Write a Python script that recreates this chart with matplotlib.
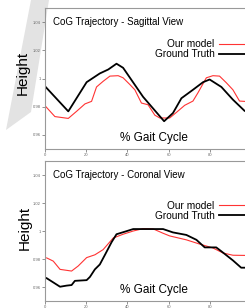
import numpy as np
import matplotlib
matplotlib.use("Agg")
import matplotlib.pyplot as plt
from matplotlib.patches import Polygon

plt.rcParams['font.family'] = ['Liberation Sans', 'DejaVu Sans']

# --- data ---
sag_model_x = [0, 4.8, 11.3, 15.3, 19.4, 22.6, 25, 28.2, 31.5, 35.5, 37.9, 41.2, 43.6,
               46.8, 50, 53.3, 55.7, 60.5, 63.8, 67.8, 71.8, 74.2, 78.3, 81.5, 84.7,
               88, 91.2, 94.4, 100]
sag_model_y = [0.9807, 0.973, 0.9717, 0.9767, 0.982, 0.9838, 0.994, 0.998, 1.0017, 1.002,
               1.0005, 0.9957, 0.992, 0.9826, 0.9814, 0.974, 0.972, 0.972, 0.976, 0.981,
               0.984, 0.9898, 1.0005, 1.002, 1.0017, 0.997, 0.992, 0.984, 0.9835]
sag_truth_x = [0, 11.3, 20.2, 26.6, 30.7, 34.7, 37.9, 47.6, 57.8, 62.1, 66.2, 71.8,
               76.7, 79.9, 85.6, 91.2, 96.9, 100]
sag_truth_y = [0.9945, 0.9767, 0.9974, 1.0036, 1.0064, 1.0105, 1.0076, 0.987, 0.9697,
               0.9755, 0.986, 0.992, 0.9974, 0.9993, 0.994, 0.985, 0.977, 0.976]

cor_model_x = [0.8, 4, 7.3, 12.9, 16.1, 20.2, 24.2, 28.2, 33.1, 37.9, 42.8, 47.6, 52.5,
               57.3, 60.5, 68.6, 75, 81.5, 86.4, 91.2, 100]
cor_model_y = [0.9808, 0.9785, 0.9726, 0.9714, 0.975, 0.981, 0.983, 0.9867, 0.995,
               0.9977, 1.0, 1.0017, 1.0015, 0.9984, 0.9965, 0.9937, 0.9907, 0.9879,
               0.9843, 0.9827, 0.9825]
cor_truth_x = [0.8, 4, 7.3, 10.5, 12.9, 14.5, 20.2, 21.8, 24.2, 26.6, 29.1, 32.3, 34.7,
               38.7, 42.8, 47.6, 57.3, 62.1, 68.6, 73.5, 77.5, 83.1, 85.6, 91.2, 95.2, 100]
cor_truth_y = [0.9663, 0.9633, 0.9602, 0.961, 0.9614, 0.9644, 0.9649, 0.9672, 0.9726,
               0.9761, 0.983, 0.992, 0.9977, 0.9995, 1.0014, 1.0014, 1.0014, 0.999,
               0.9972, 0.9937, 0.9883, 0.9883, 0.9855, 0.979, 0.9738, 0.9738]

titles = ["CoG Trajectory - Sagittal View", "CoG Trajectory - Coronal View"]
y_ticks = [0.96, 0.98, 1.0, 1.02, 1.04]
y_ticklabels = ["0.96", "0.98", "1", "1.02", "1.04"]
x_ticks = [0, 20, 40, 60, 80]

fig = plt.figure(figsize=(2.45, 3.08), dpi=100)

# grey diagonal smear in the upper left corner of the scan
band = Polygon([(31, 308), (49, 308), (31, 196), (6, 178)], closed=True,
               transform=None, facecolor='#e3e3e3', edgecolor='none', zorder=-1)
fig.patches.append(band)

panels = [
    ([0.1837, 0.5162, 0.841, 0.4578], sag_model_x, sag_model_y, sag_truth_x, sag_truth_y,
     titles[0], 0.738, (-0.107, 0.543)),
    ([0.1837, 0.0227, 0.841, 0.4545], cor_model_x, cor_model_y, cor_truth_x, cor_truth_y,
     titles[1], 0.674, (-0.097, 0.525)),
]

for rect, mx, my, tx, ty, title, leg_y, hpos in panels:
    ax = fig.add_axes(rect)
    ax.patch.set_alpha(0)
    ax.plot(mx, my, color='#ff3333', lw=0.8, label='Our model')
    ax.plot(tx, ty, color='black', lw=1.3, label='Ground Truth')
    ax.set_xlim(0, 100)
    ax.set_ylim(0.95, 1.05)
    ax.set_yticks(y_ticks)
    ax.set_yticklabels(y_ticklabels)
    ax.set_xticks(x_ticks)
    ax.tick_params(labelsize=3, colors='#666666', length=2, width=0.5, pad=1)
    for s in ax.spines.values():
        s.set_color('#999999')
        s.set_linewidth(0.8)
    ax.text(0.039, 0.90, title, transform=ax.transAxes, fontsize=7,
            va='center', ha='left')
    ax.text(0.53, 0.08, '% Gait Cycle', transform=ax.transAxes, fontsize=8.5,
            ha='center', va='center')
    ax.text(hpos[0], hpos[1], 'Height', transform=ax.transAxes, fontsize=11,
            rotation=90, ha='center', va='center')
    ax.legend(loc='center right', bbox_to_anchor=(1.0, leg_y - 0.03), frameon=False,
              markerfirst=False, fontsize=7.3, handlelength=3.2, handletextpad=0.4,
              labelspacing=0.0, borderpad=0, borderaxespad=0)

fig.savefig('out.png', dpi=100)
